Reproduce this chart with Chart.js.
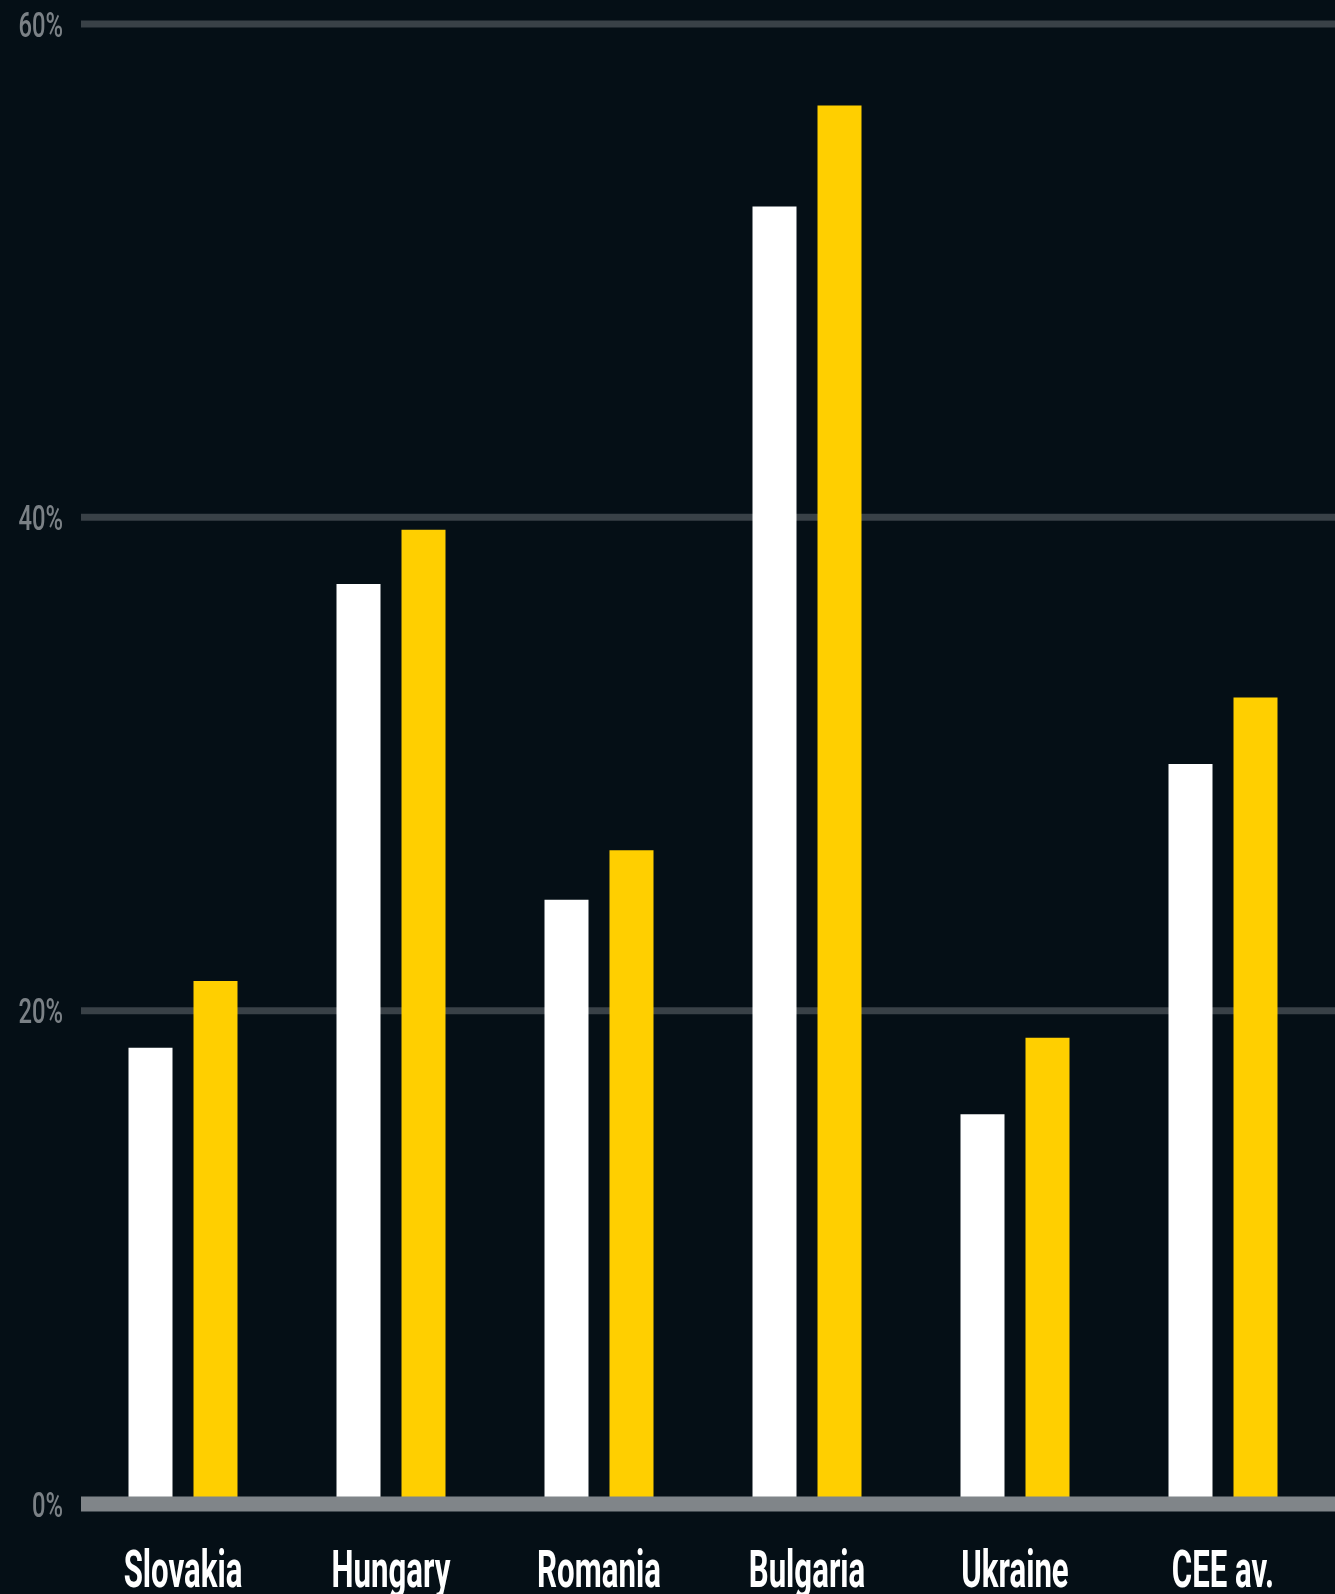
<!DOCTYPE html>
<html>
<head>
<meta charset="utf-8">
<script src="https://cdn.jsdelivr.net/npm/chart.js@4/dist/chart.umd.min.js"></script>
<style>
  html, body { margin: 0; padding: 0; background: #050f16; }
  #wrap { width: 1335px; height: 1594px; position: relative; }
</style>
</head>
<body>
<div id="wrap"><canvas id="c"></canvas></div>
<script>
const categories = ["Slovakia", "Hungary", "Romania", "Bulgaria", "Ukraine", "CEE av."];
const seriesWhite = [18.5, 37.3, 24.5, 52.6, 15.8, 30.0];
const seriesYellow = [21.2, 39.5, 26.5, 56.7, 18.9, 32.7];
const yTicks = [0, 20, 40, 60];
const yTickLabels = ["0%", "20%", "40%", "60%"];

const BG = "#050f16";
const GRID = "#394147";
const BASE = "#808589";
const TICK = "#7b8186";

function squashedText(ctx, text, x, y, sx, align, strokeW) {
  ctx.save();
  ctx.translate(x, y);
  ctx.scale(sx, 1);
  ctx.textAlign = align;
  ctx.textBaseline = "alphabetic";
  if (strokeW) {
    ctx.lineWidth = strokeW;
    ctx.lineJoin = "round";
    ctx.strokeText(text, 0, 0);
  }
  ctx.fillText(text, 0, 0);
  ctx.restore();
}

const customDraw = {
  id: "customDraw",
  beforeDatasetsDraw(chart) {
    const { ctx, chartArea, scales: { y } } = chart;
    ctx.save();
    ctx.strokeStyle = GRID;
    ctx.lineWidth = 7;
    yTicks.forEach(v => {
      if (v === 0) return;
      const py = y.getPixelForValue(v);
      ctx.beginPath();
      ctx.moveTo(chartArea.left + 2, py);
      ctx.lineTo(chart.width, py);
      ctx.stroke();
    });
    ctx.restore();
  },
  afterDatasetsDraw(chart) {
    const { ctx, chartArea, scales: { x, y } } = chart;
    const py0 = y.getPixelForValue(0);
    ctx.save();
    ctx.strokeStyle = BASE;
    ctx.lineWidth = 15;
    ctx.beginPath();
    ctx.moveTo(chartArea.left + 2, py0);
    ctx.lineTo(chart.width, py0);
    ctx.stroke();

    // y tick labels
    ctx.fillStyle = TICK;
    ctx.font = "500 35px Roboto, sans-serif";
    yTicks.forEach((v, i) => {
      const py = y.getPixelForValue(v);
      squashedText(ctx, yTickLabels[i], chartArea.left - 16, py + 12.5, 0.68, "right", 0);
    });

    // x category labels
    ctx.fillStyle = "#ffffff";
    ctx.strokeStyle = "#ffffff";
    ctx.font = "700 52px Roboto, sans-serif";
    categories.forEach((c, i) => {
      const px = x.getPixelForValue(i);
      squashedText(ctx, c, px, py0 + 83, 0.6, "center", 0);
    });
    ctx.restore();
  }
};

new Chart(document.getElementById("c"), {
  type: "bar",
  data: {
    labels: categories,
    datasets: [
      { label: "A", data: seriesWhite, backgroundColor: "#ffffff", borderWidth: 0,
        categoryPercentage: 0.625, barPercentage: 0.677 },
      { label: "B", data: seriesYellow, backgroundColor: "#ffcf00", borderWidth: 0,
        categoryPercentage: 0.625, barPercentage: 0.677 }
    ]
  },
  options: {
    responsive: true,
    maintainAspectRatio: false,
    animation: false,
    layout: { padding: { top: 24, right: 8, bottom: 0, left: 0 } },
    plugins: { legend: { display: false }, tooltip: { enabled: false } },
    scales: {
      x: {
        grid: { display: false, drawTicks: false },
        border: { display: false },
        ticks: { display: false },
        afterFit(scale) { scale.height = 90; }
      },
      y: {
        min: 0, max: 60,
        grid: { display: false, drawTicks: false },
        border: { display: false },
        ticks: { display: false, stepSize: 20 },
        afterFit(scale) { scale.width = 79; }
      }
    }
  },
  plugins: [customDraw]
});
</script>
</body>
</html>
